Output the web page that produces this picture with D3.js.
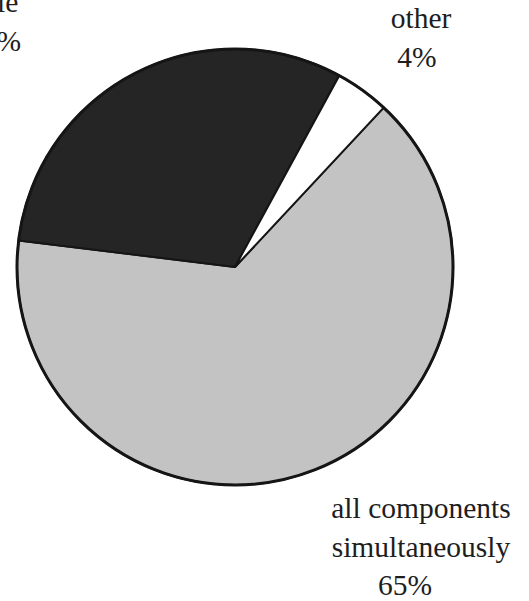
<!DOCTYPE html>
<html>
<head>
<meta charset="utf-8">
<script src="https://cdn.jsdelivr.net/npm/d3@7/dist/d3.min.js"></script>
<style>
  html, body { margin: 0; padding: 0; background: #fff; }
  svg { display: block; }
  text { font-family: "Liberation Serif", "Times New Roman", serif; fill: #1e1e1e; }
</style>
</head>
<body>
<svg id="chart" width="529" height="601"></svg>
<script>
// Share of runs by component mode (percent)
const categories = ["all components simultaneously", "single", "other"];
const values = [65, 31, 4];
const fills = ["#c3c3c3", "#252525", "#ffffff"];

const width = 529, height = 601;
const cx = 235, cy = 267, radius = 218;

const svg = d3.select("#chart");

const pie = d3.pie()
  .sort(null)
  .value(d => d)
  .startAngle(43 * Math.PI / 180)
  .endAngle(43 * Math.PI / 180 + 2 * Math.PI);

const arc = d3.arc().innerRadius(0).outerRadius(radius);

const g = svg.append("g").attr("transform", `translate(${cx},${cy})`);

g.selectAll("path.slice")
  .data(pie(values))
  .join("path")
  .attr("class", "slice")
  .attr("d", arc)
  .attr("fill", (d, i) => fills[i])
  .attr("stroke", "#151515")
  .attr("stroke-width", 2)
  .attr("stroke-linejoin", "round");

// outer rim
g.append("circle")
  .attr("r", radius)
  .attr("fill", "none")
  .attr("stroke", "#151515")
  .attr("stroke-width", 3);

// labels: text lines with their anchor positions
const fmt = v => v + "%";
const labels = [
  { lines: ["all components", "simultaneously", fmt(values[0])], xs: [421, 421, 405], y0: 518 },
  { lines: [categories[1], fmt(values[1])], xs: [-17, -6], y0: 12 },
  { lines: [categories[2], fmt(values[2])], xs: [421, 417], y0: 28 }
];
const lineH = 38.5;

labels.forEach(lab => {
  lab.lines.forEach((t, j) => {
    svg.append("text")
      .attr("x", lab.xs[j])
      .attr("y", lab.y0 + j * lineH)
      .attr("text-anchor", "middle")
      .attr("font-size", 29.5)
      .text(t);
  });
});
</script>
</body>
</html>
